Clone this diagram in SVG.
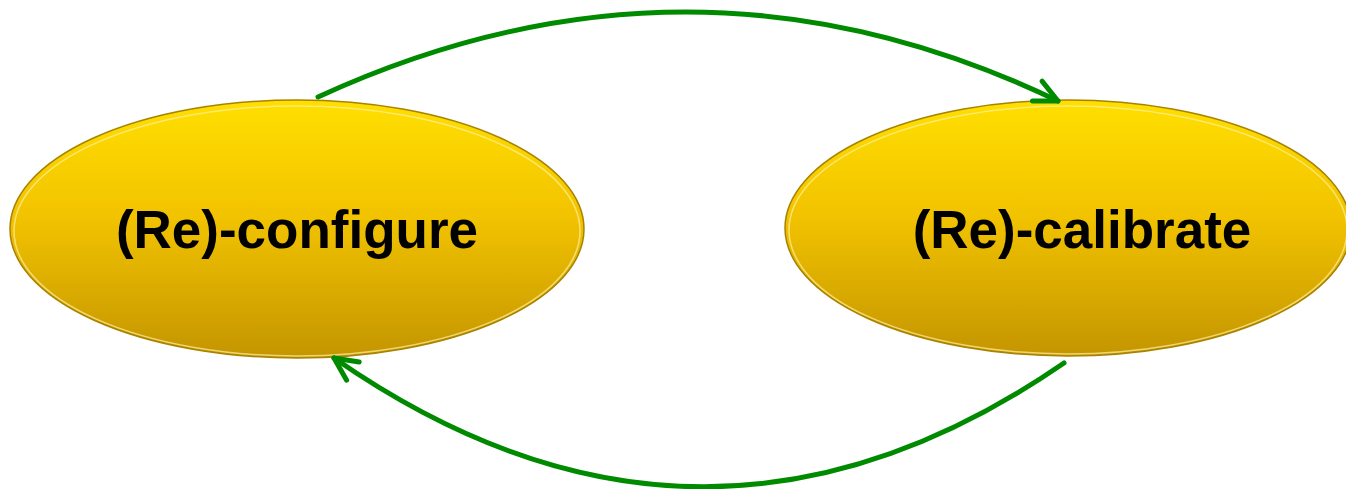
<svg xmlns="http://www.w3.org/2000/svg" width="1346" height="489" viewBox="0 0 1346 489">
  <style>
    .node { stroke: #a88300; stroke-width: 1.5; fill: url(#gold); }
    .rim { fill: none; stroke: #fff0a0; stroke-width: 1.5; opacity: 0.7; }
    .label { font-family: "Liberation Sans", Arial, sans-serif; font-weight: bold; fill: #000; text-anchor: middle; font-size: 53px; }
    .conn { fill: none; stroke: #008a00; stroke-width: 5; stroke-linecap: round; }
  </style>
  <defs>
    <linearGradient id="gold" x1="0" y1="0" x2="0" y2="1">
      <stop offset="0" stop-color="#ffdf00"/>
      <stop offset="0.45" stop-color="#f2c300"/>
      <stop offset="1" stop-color="#c49500"/>
    </linearGradient>
    <marker id="arrow" markerUnits="userSpaceOnUse" markerWidth="40" markerHeight="40" viewBox="-30 -20 40 40" refX="0" refY="0" orient="auto">
      <path d="M-23,-11 L0,0 L-23,11" fill="none" stroke="#008a00" stroke-width="5" stroke-linecap="round" stroke-linejoin="round"/>
    </marker>
  </defs>
  <rect width="1346" height="489" fill="#ffffff"/>

  <g id="node-configure">
    <ellipse class="node" cx="297" cy="229" rx="287" ry="129"/>
    <ellipse class="rim" cx="297" cy="231" rx="283" ry="125"/>
    <text class="label" x="297" y="248">(Re)-configure</text>
  </g>

  <g id="node-calibrate">
    <ellipse class="node" cx="1068" cy="228" rx="283" ry="128"/>
    <ellipse class="rim" cx="1068" cy="230" rx="279" ry="124"/>
    <text class="label" x="1082" y="248">(Re)-calibrate</text>
  </g>

  <g id="connectors">
    <path class="conn" d="M318,97 Q692,-75 1058,101" marker-end="url(#arrow)"/>
    <path class="conn" d="M1064,363 Q701,613 334,358" marker-end="url(#arrow)"/>
  </g>
</svg>
